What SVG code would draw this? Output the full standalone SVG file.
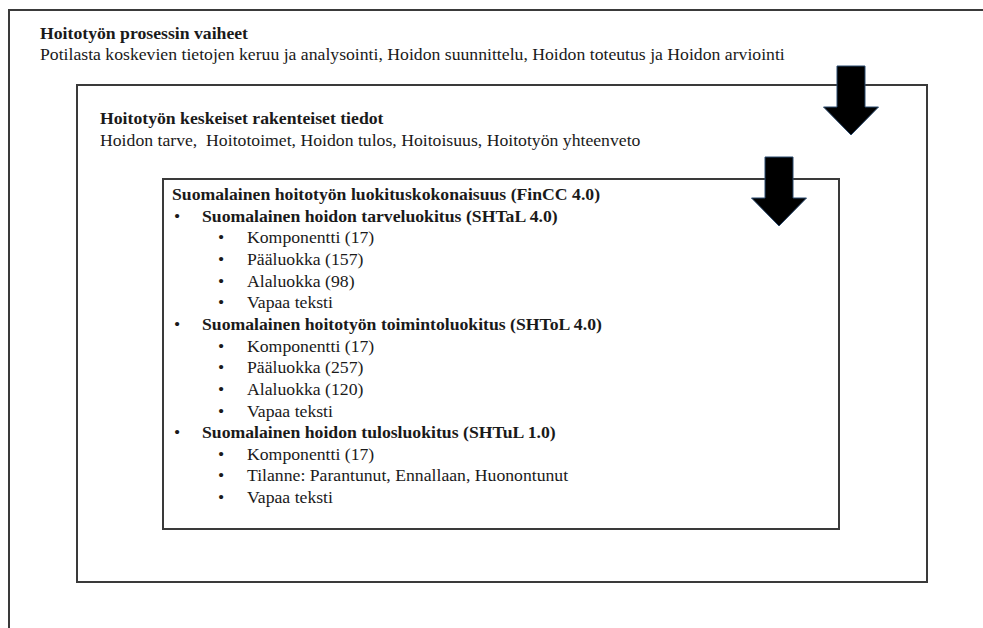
<svg xmlns="http://www.w3.org/2000/svg" xmlns:xlink="http://www.w3.org/1999/xlink" width="983" height="628" viewBox="0 0 983 628">
<style>
  text { font-family: "Liberation Serif", "Times New Roman", serif; font-size: 17.7px; fill: #1a1a1a; }
  .b { font-weight: bold; }
  .bul { text-anchor: middle; }
  .box { fill: none; stroke: #3a3a3a; stroke-width: 2; }
  .arrow { fill: #000; stroke: #2b4a6e; stroke-width: 1; stroke-linejoin: miter; }
</style>
<defs>
  <path id="blockArrow" d="M-14,-69 H14 V-28 H27.5 L0,0 L-27.5,-28 H-14 Z"/>
</defs>
<rect width="983" height="628" fill="#fff"/>

<g id="outer">
  <path class="box" d="M9,628 V10 H983"/>
  <text class="b" x="40" y="38.5">Hoitotyön prosessin vaiheet</text>
  <text x="40" y="60">Potilasta koskevien tietojen keruu ja analysointi, Hoidon suunnittelu, Hoidon toteutus ja Hoidon arviointi</text>
</g>

<g id="middle">
  <rect class="box" x="77" y="85" width="850" height="497"/>
  <text class="b" x="100" y="124">Hoitotyön keskeiset rakenteiset tiedot</text>
  <text x="100" y="146" xml:space="preserve">Hoidon tarve,  Hoitotoimet, Hoidon tulos, Hoitoisuus, Hoitotyön yhteenveto</text>
</g>

<g id="inner">
  <rect class="box" x="163" y="179" width="676" height="350"/>
  <text class="b" x="172" y="200">Suomalainen hoitotyön luokituskokonaisuus (FinCC 4.0)</text>
  <text class="bul" x="177" y="221.6">•</text><text class="b" x="202" y="221.6">Suomalainen hoidon tarveluokitus (SHTaL 4.0)</text>
  <text class="bul" x="221" y="243.3">•</text><text x="247" y="243.3">Komponentti (17)</text>
  <text class="bul" x="221" y="264.9">•</text><text x="247" y="264.9">Pääluokka (157)</text>
  <text class="bul" x="221" y="286.6">•</text><text x="247" y="286.6">Alaluokka (98)</text>
  <text class="bul" x="221" y="308.2">•</text><text x="247" y="308.2">Vapaa teksti</text>
  <text class="bul" x="177" y="329.9">•</text><text class="b" x="202" y="329.9">Suomalainen hoitotyön toimintoluokitus (SHToL 4.0)</text>
  <text class="bul" x="221" y="351.5">•</text><text x="247" y="351.5">Komponentti (17)</text>
  <text class="bul" x="221" y="373.2">•</text><text x="247" y="373.2">Pääluokka (257)</text>
  <text class="bul" x="221" y="394.8">•</text><text x="247" y="394.8">Alaluokka (120)</text>
  <text class="bul" x="221" y="416.5">•</text><text x="247" y="416.5">Vapaa teksti</text>
  <text class="bul" x="177" y="438.1">•</text><text class="b" x="202" y="438.1">Suomalainen hoidon tulosluokitus (SHTuL 1.0)</text>
  <text class="bul" x="221" y="459.8">•</text><text x="247" y="459.8">Komponentti (17)</text>
  <text class="bul" x="221" y="481.4">•</text><text x="247" y="481.4">Tilanne: Parantunut, Ennallaan, Huonontunut</text>
  <text class="bul" x="221" y="503.1">•</text><text x="247" y="503.1">Vapaa teksti</text>
</g>

<g id="connectors">
  <use xlink:href="#blockArrow" class="arrow" transform="translate(851,135)"/>
  <use xlink:href="#blockArrow" class="arrow" transform="translate(779,226)"/>
</g>
</svg>
